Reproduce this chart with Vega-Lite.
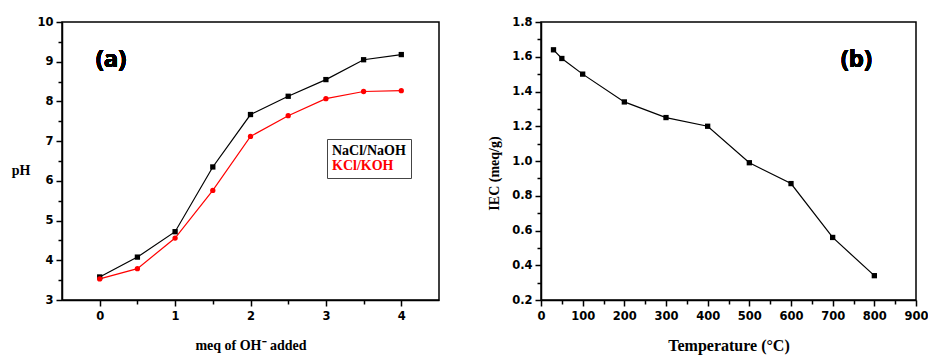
{
  "$schema": "https://vega.github.io/schema/vega-lite/v6.json",
  "background": "white",
  "padding": {"left": 10, "top": 15, "right": 5, "bottom": 5},
  "spacing": 102,
  "bounds": "flush",
  "datasets": {
    "titration": [
      {"series": "NaCl/NaOH", "meq": 0, "pH": 3.58},
      {"series": "NaCl/NaOH", "meq": 0.5, "pH": 4.08},
      {"series": "NaCl/NaOH", "meq": 1, "pH": 4.72},
      {"series": "NaCl/NaOH", "meq": 1.5, "pH": 6.35},
      {"series": "NaCl/NaOH", "meq": 2, "pH": 7.67},
      {"series": "NaCl/NaOH", "meq": 2.5, "pH": 8.13},
      {"series": "NaCl/NaOH", "meq": 3, "pH": 8.55},
      {"series": "NaCl/NaOH", "meq": 3.5, "pH": 9.05},
      {"series": "NaCl/NaOH", "meq": 4, "pH": 9.18},
      {"series": "KCl/KOH", "meq": 0, "pH": 3.53},
      {"series": "KCl/KOH", "meq": 0.5, "pH": 3.79},
      {"series": "KCl/KOH", "meq": 1, "pH": 4.56},
      {"series": "KCl/KOH", "meq": 1.5, "pH": 5.76},
      {"series": "KCl/KOH", "meq": 2, "pH": 7.12},
      {"series": "KCl/KOH", "meq": 2.5, "pH": 7.64},
      {"series": "KCl/KOH", "meq": 3, "pH": 8.07},
      {"series": "KCl/KOH", "meq": 3.5, "pH": 8.25},
      {"series": "KCl/KOH", "meq": 4, "pH": 8.27}
    ],
    "iec": [
      {"temp": 30, "iec": 1.64},
      {"temp": 50, "iec": 1.59},
      {"temp": 100, "iec": 1.50},
      {"temp": 200, "iec": 1.34},
      {"temp": 300, "iec": 1.25},
      {"temp": 400, "iec": 1.20},
      {"temp": 500, "iec": 0.99},
      {"temp": 600, "iec": 0.87},
      {"temp": 700, "iec": 0.56},
      {"temp": 800, "iec": 0.34}
    ]
  },
  "config": {
    "view": {"stroke": "black", "strokeWidth": 1.5},
    "axis": {
      "grid": false,
      "tickCount": 50,
      "domainColor": "black",
      "domainWidth": 1.5,
      "tickColor": "black",
      "tickWidth": 1.5,
      "labelFont": "DejaVu Sans",
      "labelFontWeight": "bold",
      "labelFontSize": 11.5,
      "labelColor": "black",
      "labelOverlap": false,
      "labelFlush": false,
      "titleFont": "Liberation Serif",
      "titleFontWeight": "bold",
      "titleFontSize": 14,
      "titleColor": "black"
    }
  },
  "hconcat": [
    {
      "width": 377,
      "height": 278,
      "data": {"name": "titration"},
      "layer": [
        {
          "mark": {"type": "line", "strokeWidth": 1.2},
          "encoding": {
            "x": {"field": "meq", "type": "quantitative"},
            "y": {"field": "pH", "type": "quantitative"},
            "color": {
              "field": "series",
              "type": "nominal",
              "scale": {"domain": ["NaCl/NaOH", "KCl/KOH"], "range": ["black", "red"]},
              "legend": {
                "orient": "none",
                "legendX": 265,
                "legendY": 117,
                "title": null,
                "strokeColor": "#444",
                "fillColor": "white",
                "padding": 5,
                "symbolType": "circle",
                "symbolSize": 0,
                "symbolOpacity": 0,
                "symbolStrokeWidth": 0,
                "labelOffset": -14,
                "rowPadding": 1,
                "labelFont": "Liberation Serif",
                "labelFontWeight": "bold",
                "labelFontSize": 14,
                "encode": {
                  "labels": {
                    "update": {
                      "fill": {"signal": "datum.value === 'KCl/KOH' ? 'red' : 'black'"}
                    }
                  }
                }
              }
            }
          }
        },
        {
          "mark": {"type": "point", "filled": true, "opacity": 1, "size": 28},
          "encoding": {
            "x": {
              "field": "meq",
              "type": "quantitative",
              "scale": {"domain": [-0.5, 4.5], "nice": false, "zero": false},
              "axis": {
                "title": "meq of OH⁻ added",
                "values": [0, 0.5, 1, 1.5, 2, 2.5, 3, 3.5, 4],
                "tickCount": 50,
                "labelExpr": "datum.value % 1 === 0 ? format(datum.value, 'd') : ''",
                "labelOverlap": false,
                "tickSize": {"condition": {"test": "datum.value % 1 === 0", "value": 6}, "value": 4},
                "labelPadding": 4,
                "titlePadding": 17
              }
            },
            "y": {
              "field": "pH",
              "type": "quantitative",
              "scale": {"domain": [3, 10], "nice": false, "zero": false},
              "axis": {
                "title": "pH",
                "values": [3, 3.5, 4, 4.5, 5, 5.5, 6, 6.5, 7, 7.5, 8, 8.5, 9, 9.5, 10],
                "tickCount": 50,
                "labelExpr": "datum.value % 1 === 0 ? format(datum.value, 'd') : ''",
                "labelOverlap": false,
                "tickSize": {"condition": {"test": "datum.value % 1 === 0", "value": 6}, "value": 4},
                "labelPadding": 3,
                "titleAngle": 0,
                "titleAlign": "right",
                "titleBaseline": "middle",
                "titleX": -32,
                "titleY": 148
              }
            },
            "color": {"field": "series", "type": "nominal"},
            "shape": {
              "field": "series",
              "type": "nominal",
              "scale": {"domain": ["NaCl/NaOH", "KCl/KOH"], "range": ["square", "circle"]},
              "legend": null
            }
          }
        },
        {
          "mark": {"type": "text", "text": "(a)", "font": "Open Sans", "fontWeight": "bold", "fontSize": 24, "color": "black", "baseline": "middle", "align": "center"},
          "encoding": {
            "x": {"datum": 0.15},
            "y": {"datum": 9.04}
          }
        }
      ]
    },
    {
      "width": 375,
      "height": 278,
      "data": {"name": "iec"},
      "layer": [
        {
          "mark": {"type": "line", "strokeWidth": 1.2, "color": "black"},
          "encoding": {
            "x": {"field": "temp", "type": "quantitative"},
            "y": {"field": "iec", "type": "quantitative"}
          }
        },
        {
          "mark": {"type": "point", "shape": "square", "filled": true, "opacity": 1, "size": 28, "color": "black"},
          "encoding": {
            "x": {
              "field": "temp",
              "type": "quantitative",
              "scale": {"domain": [0, 900], "nice": false},
              "axis": {
                "title": "Temperature (°C)",
                "titleFontSize": 16,
                "values": [0, 50, 100, 150, 200, 250, 300, 350, 400, 450, 500, 550, 600, 650, 700, 750, 800, 850, 900],
                "tickCount": 50,
                "labelExpr": "datum.value % 100 === 0 ? format(datum.value, 'd') : ''",
                "labelOverlap": false,
                "tickSize": {"condition": {"test": "datum.value % 100 === 0", "value": 6}, "value": 4},
                "labelPadding": 4,
                "titlePadding": 16
              }
            },
            "y": {
              "field": "iec",
              "type": "quantitative",
              "scale": {"domain": [0.2, 1.8], "nice": false, "zero": false},
              "axis": {
                "title": "IEC (meq/g)",
                "values": [0.2, 0.3, 0.4, 0.5, 0.6, 0.7, 0.8, 0.9, 1.0, 1.1, 1.2, 1.3, 1.4, 1.5, 1.6, 1.7, 1.8],
                "tickCount": 50,
                "labelExpr": "round(datum.value * 10) % 2 === 0 ? format(datum.value, '.1f') : ''",
                "labelOverlap": false,
                "tickSize": {"condition": {"test": "round(datum.value * 10) % 2 === 0", "value": 6}, "value": 4},
                "labelPadding": 3,
                "titleBaseline": "middle",
                "titleX": -47,
                "titleY": 151
              }
            }
          }
        },
        {
          "mark": {"type": "text", "text": "(b)", "font": "Open Sans", "fontWeight": "bold", "fontSize": 24, "color": "black", "baseline": "middle", "align": "center"},
          "encoding": {
            "x": {"datum": 757},
            "y": {"datum": 1.58}
          }
        }
      ]
    }
  ]
}
